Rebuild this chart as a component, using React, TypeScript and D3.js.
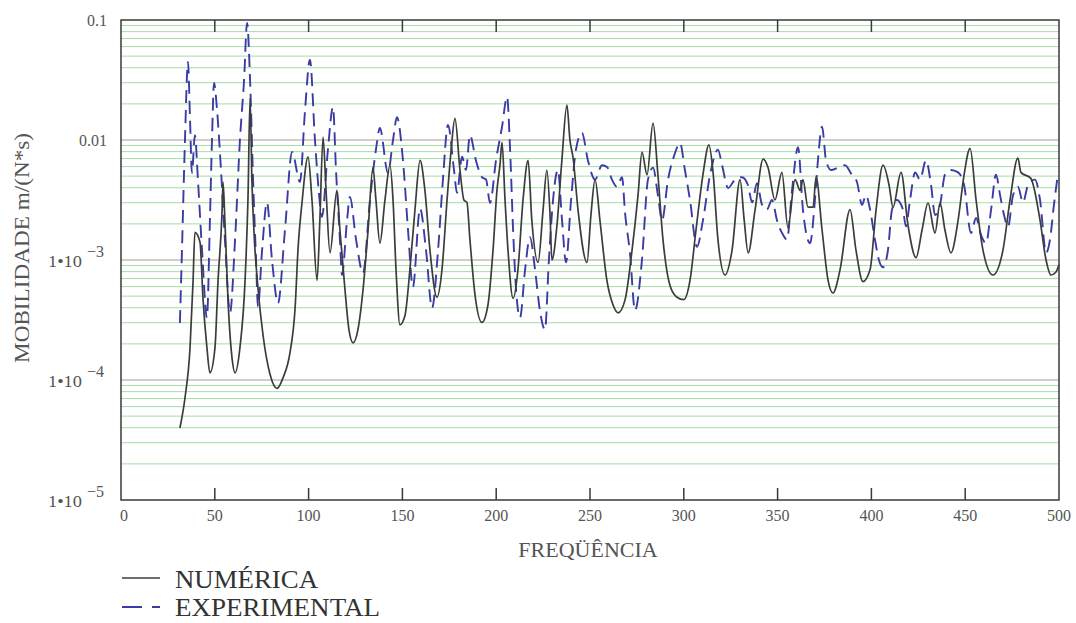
import React from "react";
import * as d3 from "d3";

// Frequency (Hz) and log10(mobility m/(N*s))
const numFreq = [31.4, 34.1, 36.8, 38.4, 39.4, 42.1, 43.7, 45.8, 47.4, 50.1, 51.7, 53.8, 54.4, 55.4, 57, 59.2, 60.8, 63.4, 66.1, 67.7, 68.8, 69.8, 70.9, 73, 75.7, 79.4, 83.2, 86.4, 90.1, 92.8, 94.4, 96.5, 99.7, 101.8, 104.5, 106, 107.7, 109.3, 111.4, 115.1, 116.7, 119.4, 121.5, 123.7, 126.3, 129, 131.7, 134.3, 135.9, 138, 140.7, 143.4, 145, 146.6, 148.7, 151.4, 154, 156.7, 159.4, 162, 164.7, 168.4, 171.1, 173.8, 176, 178, 180.7, 182.8, 184.4, 186, 188.7, 192.4, 195.6, 198.3, 200.4, 202, 203.1, 204.7, 206.3, 209, 211.6, 214.3, 217, 219, 222.3, 225, 227, 228.7, 229.7, 232.4, 235, 237.7, 239.3, 241, 243.6, 248.4, 250.5, 252.7, 255.3, 259, 262.3, 265, 268.7, 272.4, 275.6, 277.7, 280.4, 283.6, 286.2, 288.9, 292.6, 296.4, 300, 303.3, 306.5, 310.2, 313.4, 315.6, 318.2, 322, 325.7, 330, 332.2, 334.3, 338, 342.3, 344.9, 348.6, 352.3, 355.5, 359.3, 362, 363.5, 366.2, 368.9, 370.5, 373.7, 376.9, 379.5, 383.3, 388.6, 391.8, 395.5, 399.3, 402.5, 406.2, 409.4, 411.5, 415.8, 419.5, 423.8, 427, 430.2, 433.9, 436.6, 439.2, 442.4, 446.2, 449.4, 452.6, 455.8, 459.5, 464.8, 470.1, 473.9, 478.1, 479.7, 485, 489.9, 493.1, 495.7, 498.4, 500];
const numLog = [-4.4, -4.15, -3.73, -3.18, -2.77, -2.85, -3.32, -3.73, -3.94, -3.73, -3.18, -2.625, -2.35, -2.68, -3.32, -3.82, -3.94, -3.73, -3.18, -2.48, -1.65, -2.35, -2.77, -3.23, -3.625, -3.95, -4.07, -3.98, -3.77, -3.4, -2.9, -2.52, -2.14, -2.5, -3.17, -2.67, -1.975, -2.42, -2.94, -2.42, -2.75, -3.25, -3.58, -3.69, -3.58, -3.25, -2.75, -2.23, -2.5, -2.86, -2.5, -2.21, -2.5, -3.08, -3.54, -3.46, -3.08, -2.58, -2.17, -2.42, -2.92, -3.31, -3.08, -2.5, -2.08, -1.82, -2.25, -2.5, -2.52, -2.83, -3.29, -3.52, -3.375, -2.92, -2.42, -2.21, -2.02, -2.5, -2.92, -3.32, -3.08, -2.5, -2.17, -2.67, -3.02, -2.58, -2.25, -2.625, -3.0, -2.71, -2.17, -1.71, -2.0, -2.15, -2.58, -3.02, -2.625, -2.33, -2.67, -3.17, -3.375, -3.44, -3.33, -2.92, -2.46, -2.1, -2.29, -1.86, -2.29, -2.83, -3.21, -3.31, -3.33, -3.17, -2.75, -2.29, -2.04, -2.27, -2.83, -3.125, -2.92, -2.33, -2.67, -2.94, -2.58, -2.16, -2.23, -2.5, -2.27, -2.73, -2.33, -2.42, -2.33, -2.56, -2.56, -2.31, -2.75, -3.17, -3.275, -3.08, -2.58, -2.92, -3.18, -3.08, -2.58, -2.21, -2.375, -2.56, -2.27, -2.71, -2.98, -2.75, -2.525, -2.775, -2.525, -2.75, -2.94, -2.67, -2.29, -2.07, -2.5, -2.92, -3.125, -2.92, -2.5, -2.15, -2.27, -2.32, -2.67, -3.0, -3.125, -3.1, -3.04];

const expFreq = [31.4, 32.5, 34.1, 35.7, 36.8, 37.8, 39.4, 41, 43.2, 45.8, 47.4, 48.5, 49.6, 51.2, 53.3, 55.4, 58.1, 60.8, 63.4, 65.6, 67.2, 68.8, 70.4, 72, 73, 75.2, 77.8, 80.5, 83.7, 87.4, 91.2, 95.4, 98.1, 100.7, 103.4, 105.5, 107.1, 110.3, 113, 114.6, 116.7, 117.8, 120.5, 122, 125.3, 129, 132.7, 135.9, 138, 142.3, 145, 147.1, 150.3, 153, 155.6, 159.4, 162.6, 165.8, 169, 171.6, 174.3, 177.5, 179.1, 181.8, 183.9, 186, 189.2, 192.4, 194.6, 196.7, 199.9, 203.1, 205.8, 207.4, 209, 210.6, 212.7, 215.4, 218, 220.7, 223.3, 226, 228.1, 230.3, 232.9, 235.1, 237.2, 239.9, 242.5, 245.7, 248.9, 252.7, 256.4, 259.1, 261.7, 264.4, 267.1, 268.7, 271.3, 274, 277.7, 280.9, 283.6, 286.2, 288.4, 291.6, 295.3, 298, 300.6, 303.3, 307, 310.2, 314, 318.2, 320.4, 323.6, 327.3, 331, 334.2, 336.4, 339, 341.7, 344.3, 347, 349.7, 352.9, 355, 357.7, 360.9, 363.5, 367.3, 369.9, 371.5, 373.7, 375.8, 378.5, 382.2, 385.9, 389.6, 392.3, 395, 397.1, 399.3, 401.9, 404, 406.2, 408.8, 411, 413.6, 416.8, 418.4, 420.6, 423.3, 425.9, 429.1, 431.8, 433.9, 436.6, 439.2, 442.4, 446.2, 449.4, 453.1, 455.8, 458.4, 461.1, 463.8, 466.4, 468.6, 470.7, 472.8, 475.5, 478.1, 480.8, 483.5, 487.2, 489.9, 493.1, 495.2, 497.3, 499.5];
const expLog = [-3.525, -2.92, -2.0, -1.35, -1.83, -2.275, -1.96, -2.33, -2.92, -3.48, -2.67, -2.0, -1.525, -1.75, -2.25, -2.83, -3.44, -2.83, -2.0, -1.5, -1.025, -1.5, -2.33, -3.0, -3.39, -2.92, -2.52, -3.0, -3.36, -2.75, -2.1, -2.35, -1.75, -1.33, -2.0, -2.44, -2.64, -2.08, -1.725, -2.25, -2.83, -3.125, -2.67, -2.475, -2.83, -3.11, -2.5, -2.08, -1.9, -2.275, -2.0, -1.81, -2.17, -2.75, -3.225, -2.57, -2.92, -3.4, -2.92, -2.33, -1.875, -2.25, -2.44, -2.14, -2.25, -1.96, -2.17, -2.31, -2.33, -2.525, -2.17, -1.89, -1.64, -2.08, -2.75, -3.25, -3.48, -3.08, -2.81, -3.08, -3.42, -3.58, -3.0, -2.5, -2.25, -2.67, -3.02, -2.5, -2.08, -1.94, -2.17, -2.33, -2.21, -2.225, -2.33, -2.39, -2.31, -2.61, -2.94, -3.42, -3.0, -2.33, -2.23, -2.46, -2.67, -2.33, -2.11, -2.025, -2.25, -2.5, -2.89, -2.67, -2.29, -2.08, -2.21, -2.4, -2.33, -2.31, -2.375, -2.52, -2.36, -2.54, -2.58, -2.5, -2.67, -2.79, -2.83, -2.42, -2.06, -2.58, -2.86, -2.5, -2.17, -1.89, -2.17, -2.25, -2.23, -2.21, -2.29, -2.35, -2.54, -2.46, -2.58, -2.83, -3.0, -3.06, -2.92, -2.58, -2.5, -2.58, -2.72, -2.5, -2.27, -2.33, -2.17, -2.375, -2.625, -2.54, -2.29, -2.25, -2.27, -2.375, -2.775, -2.65, -2.79, -2.86, -2.58, -2.29, -2.46, -2.625, -2.725, -2.46, -2.39, -2.52, -2.375, -2.33, -2.5, -2.94, -2.83, -2.54, -2.275];

const xTicks = [0, 50, 100, 150, 200, 250, 300, 350, 400, 450, 500];
const yDecades = [-5, -4, -3, -2, -1];
const legendLabels = ["NUMÉRICA", "EXPERIMENTAL"];

const FONT = "'Liberation Serif', 'DejaVu Serif', serif";

export default function App() {
  const W = 1076;
  const H = 623;
  const x = d3.scaleLinear().domain([0, 500]).range([121, 1059]);
  const y = d3.scaleLog().domain([1e-5, 0.1]).range([500, 20]);

  const numData = numFreq.map((f, i) => [f, Math.pow(10, numLog[i])] as [number, number]);
  const expData = expFreq.map((f, i) => [f, Math.pow(10, expLog[i])] as [number, number]);

  const line = d3
    .line<[number, number]>()
    .x((d) => x(d[0]))
    .y((d) => y(d[1]))
    .curve(d3.curveMonotoneX);

  const minor: number[] = [];
  for (let d = -5; d < -1; d++) {
    for (let k = 2; k <= 9; k++) minor.push(k * Math.pow(10, d));
  }
  const decadeInner = [1e-4, 1e-3, 1e-2];

  const [x0, x1] = x.range();
  const [yb, yt] = y.range();

  return (
    <svg width={W} height={H} style={{ position: "absolute", left: 0, top: 0 }} fontFamily={FONT}>
      <rect x={0} y={0} width={W} height={H} fill="#ffffff" />
      {/* minor grid */}
      {minor.map((v, i) => (
        <line key={"m" + i} x1={x0} x2={x1} y1={y(v)} y2={y(v)} stroke="#a4dea4" strokeWidth={1} />
      ))}
      {decadeInner.map((v, i) => (
        <line key={"d" + i} x1={x0} x2={x1} y1={y(v)} y2={y(v)} stroke="#a89a92" strokeWidth={1} />
      ))}
      {/* frame */}
      <rect x={x0} y={yt} width={x1 - x0} height={yb - yt} fill="none" stroke="#3a3a3a" strokeWidth={1.5} />
      {/* x ticks top and bottom */}
      {xTicks.slice(1, -1).map((t) => (
        <g key={"t" + t}>
          <line x1={x(t)} x2={x(t)} y1={yb} y2={yb - 12} stroke="#3a3a3a" strokeWidth={1.5} />
          <line x1={x(t)} x2={x(t)} y1={yt} y2={yt + 12} stroke="#3a3a3a" strokeWidth={1.5} />
        </g>
      ))}
      {xTicks.map((t) => (
        <text key={"xl" + t} x={x(t) + (t === 0 ? 3 : 0)} y={521} textAnchor="middle" fontSize={16} fill="#555">
          {t}
        </text>
      ))}
      {/* y tick labels */}
      {yDecades.map((d) => {
        const yy = y(Math.pow(10, d));
        if (d === -1 || d === -2) {
          return (
            <text key={"yl" + d} x={107} y={yy + 6} textAnchor="end" fontSize={16} fill="#555">
              {d === -1 ? "0.1" : "0.01"}
            </text>
          );
        }
        return (
          <text key={"yl" + d} x={48} y={yy + 7} fontSize={16} fill="#555">
            <tspan textLength={34} lengthAdjust="spacingAndGlyphs">1•10</tspan>
            <tspan x={87} dy={-10} fontSize={16}>
              {"\u2212" + Math.abs(d)}
            </tspan>
          </text>
        );
      })}
      {/* curves */}
      <path d={line(expData) || ""} fill="none" stroke="#3b3ba6" strokeWidth={1.9} strokeDasharray="13,7" />
      <path d={line(numData) || ""} fill="none" stroke="#3c3c3c" strokeWidth={1.7} />
      {/* axis titles */}
      <text x={588} y={557} textAnchor="middle" fontSize={22} fill="#555">
        FREQÜÊNCIA
      </text>
      <text
        transform="translate(29,248) rotate(-90)"
        textAnchor="middle"
        fontSize={22}
        fill="#555"
        textLength={230}
        lengthAdjust="spacingAndGlyphs"
      >
        MOBILIDADE m/(N*s)
      </text>
      {/* legend */}
      <line x1={122} x2={160} y1={578} y2={578} stroke="#3c3c3c" strokeWidth={1.6} />
      <text x={175} y={588} fontSize={26} fill="#333" textLength={143} lengthAdjust="spacingAndGlyphs">
        {legendLabels[0]}
      </text>
      <line x1={122} x2={160} y1={607} y2={607} stroke="#3b3ba6" strokeWidth={1.8} strokeDasharray="20,10" />
      <text x={175} y={616} fontSize={25} fill="#333" textLength={205} lengthAdjust="spacingAndGlyphs">
        {legendLabels[1]}
      </text>
    </svg>
  );
}
